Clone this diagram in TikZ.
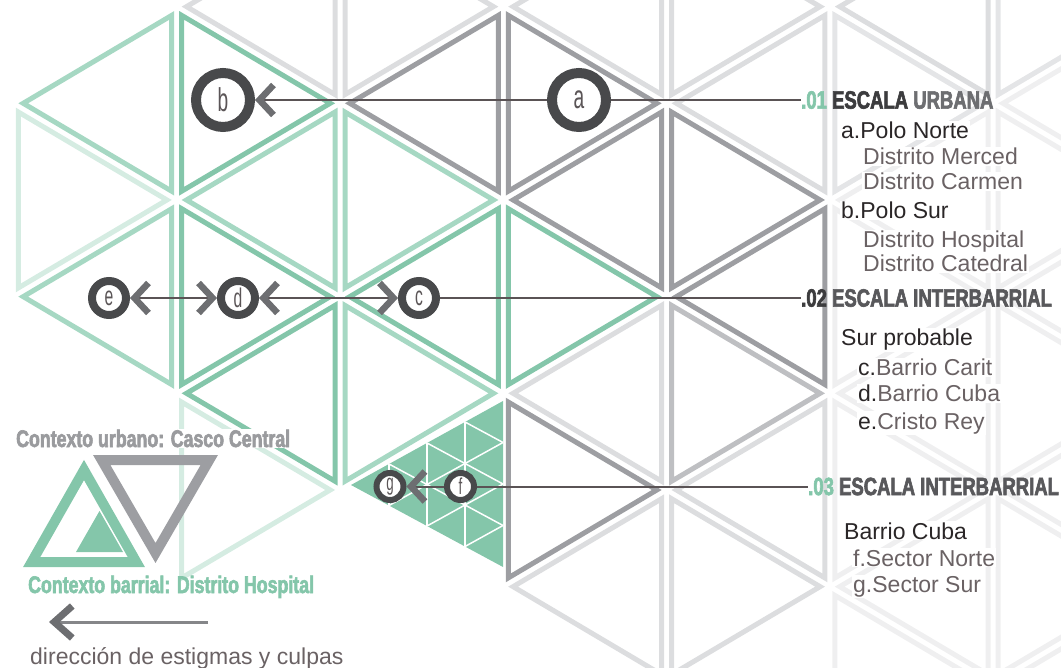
\documentclass[tikz,border=0pt]{standalone}
\usepackage{fontspec}
\setmainfont{Liberation Sans}
\newfontfamily\headfont{Liberation Sans}[FakeStretch=0.74,FakeBold=2.5]
\newfontfamily\circfont{Liberation Sans}[FakeStretch=0.58]
\usetikzlibrary{arrows.meta,calc}
\definecolor{gA}{HTML}{84C6AA}
\definecolor{gB}{HTML}{A6D8C3}
\definecolor{gC}{HTML}{D5ECE2}
\definecolor{dA}{HTML}{9D9EA2}
\definecolor{dB}{HTML}{BEBFC2}
\definecolor{dC}{HTML}{DCDDDF}
\definecolor{dC2}{HTML}{E4E5E7}
\definecolor{dD}{HTML}{EFEFF0}
\definecolor{ringc}{HTML}{48494B}
\definecolor{chevc}{HTML}{6D6E71}
\definecolor{connc}{HTML}{5A5355}
\definecolor{tdark}{HTML}{2A2627}
\definecolor{tgray}{HTML}{6A6264}
\definecolor{hdark}{HTML}{3C3C3E}
\definecolor{hmid}{HTML}{58585B}
\definecolor{hgray}{HTML}{6D6E71}
\definecolor{lgray}{HTML}{9A9B9E}
\definecolor{legl}{HTML}{858689}
\definecolor{circt}{HTML}{5B5557}

\def\XO{13.4}\def\DX{163.3}\def\YO{103.3}\def\DY{96.67}\def\RIN{55.11}\def\KK{0.9093}
% triangle of the lattice: [extra style]{strip i}{row j}{colour}
\newcommand\tri[4][]{%
  \pgfmathtruncatemacro\tTp{mod(#2+#3+100,2)}%
  \ifnum\tTp=0
    \pgfmathsetmacro\tAx{\XO+\DX*(#2)}\pgfmathsetmacro\tEx{\XO+\DX*(#2+1)}\pgfmathsetmacro\tIx{\tEx-\RIN}%
  \else
    \pgfmathsetmacro\tAx{\XO+\DX*(#2+1)}\pgfmathsetmacro\tEx{\XO+\DX*(#2)}\pgfmathsetmacro\tIx{\tEx+\RIN}%
  \fi
  \pgfmathsetmacro\tYm{\YO+\DY*(#3)}%
  \pgfmathsetmacro\tAp{\tIx+\KK*(\tAx-\tIx)}%
  \pgfmathsetmacro\tEp{\tIx+\KK*(\tEx-\tIx)}%
  \pgfmathsetmacro\tEu{\tYm-\KK*\DY}%
  \pgfmathsetmacro\tEd{\tYm+\KK*\DY}%
  \draw[tristyle,draw=#4,#1] (\tAp,\tYm) -- (\tEp,\tEu) -- (\tEp,\tEd) -- cycle;
}

\tikzset{
  tristyle/.style={line width=5pt,line join=miter},
  chevtip/.tip={Straight Barb[sharp,length=14pt,width=30pt,line width=6.5pt,color=chevc]},
  chevleg/.tip={Straight Barb[sharp,length=18pt,width=32pt,line width=7pt,color=chevc]},
  conn/.style={draw=connc,line width=2pt},
  ringA/.style={circle,draw=ringc,fill=white,line width=10pt,minimum size=54pt,inner sep=0pt,text=circt,font=\circfont\fontsize{33}{33}\selectfont},
  ringB/.style={circle,draw=ringc,fill=white,line width=8pt,minimum size=34pt,inner sep=0pt,text=circt,font=\circfont\fontsize{27}{27}\selectfont},
  ringC/.style={circle,draw=ringc,fill=white,line width=6pt,minimum size=27pt,inner sep=0pt,text=circt,font=\circfont\fontsize{23}{23}\selectfont},
  head/.style={anchor=west,inner sep=0pt,font=\headfont\bfseries\fontsize{25}{25}\selectfont},
  item/.style={anchor=base west,inner sep=1pt,fill=white,font=\fontsize{23}{23}\selectfont},
  legtext/.style={anchor=base west,inner sep=1pt,font=\headfont\bfseries\fontsize{24}{24}\selectfont},
}

\begin{document}
\begin{tikzpicture}[x=1pt,y=-1pt]
\useasboundingbox (0,0) rectangle (1061,668);
\clip (0,0) rectangle (1061,668);

% ---- faint right part
\foreach \j in {0,...,6} {\tri{6}{\j}{dD}}
\foreach \j in {1,...,6} {\tri{5}{\j}{dD}}
\tri{6}{-1}{dC2}
\tri{5}{0}{dC2}
\tri{5}{-1}{dC}
% ---- strip 4
\tri{4}{-1}{dC}\tri{4}{0}{dC}\tri{4}{1}{dA}\tri{4}{2}{dA}\tri{4}{3}{dB}\tri{4}{4}{dC}\tri{4}{5}{dC}
% ---- strip 3
\tri{3}{-1}{dC}\tri{3}{0}{dA}\tri{3}{1}{dA}\tri{3}{2}{gA}\tri{3}{3}{dC}\tri{3}{4}{dA}\tri{3}{5}{dC}
% ---- strip 2
\tri{2}{-1}{dC}\tri{2}{0}{dA}\tri{2}{1}{gB}\tri{2}{2}{gA}\tri{2}{3}{gB}
% ---- strip 1
\tri{1}{-1}{dC}\tri{1}{0}{gA}\tri{1}{1}{gB}\tri{1}{2}{gA}\tri{1}{3}{gA}\tri{1}{4}{gC}
% ---- strip 0
\tri{0}{0}{gB}\tri{0}{1}{gC}\tri{0}{2}{gB}

% ---- filled, subdivided triangle (Barrio Cuba)
\coordinate (FA) at (351,485);
\coordinate (FB) at (503,401);
\coordinate (FC) at (503,567);
\fill[gA] (FA) -- (FB) -- (FC) -- cycle;
\foreach \t in {0.25,0.5,0.75} {
  \draw[white,line width=1.5pt] ($(FA)!\t!(FB)$) -- ($(FA)!\t!(FC)$);
  \draw[white,line width=1.5pt] ($(FA)!\t!(FC)$) -- ($(FC)!1-\t!(FB)$);
  \draw[white,line width=1.5pt] ($(FA)!\t!(FB)$) -- ($(FB)!1-\t!(FC)$);
}

% ---- legend symbols
\draw[line width=10pt,draw=gA,line join=miter] (31.7,562) -- (136.3,562) -- (84,470) -- cycle;
\fill[gA] (76,552) -- (123,552) -- (99.5,511) -- cycle;
\draw[line width=10pt,draw=dA,line join=miter] (101.7,460) -- (209.3,460) -- (155.5,553) -- cycle;

% ---- texts
\node[legtext,text=lgray,fill=white] (ctxU) at (15,447) {Contexto urbano: Casco Central};
\node[legtext,text=gA] (ctxB) at (27,593) {Contexto barrial: Distrito Hospital};
\node[anchor=base west,inner sep=0pt,text=tgray,font=\fontsize{23}{23}\selectfont] (dir) at (30,664) {dirección de estigmas y culpas};

\node[head] (h1) at (801,100) {\textcolor{gA}{.01} \textcolor{hdark}{ESCALA} \textcolor{hgray}{URBANA}};
\node[head] (h2) at (801,298) {\textcolor{hdark}{.02} \textcolor{hmid}{ESCALA INTERBARRIAL}};
\node[head] (h3) at (808,486.5) {\textcolor{gA}{.03} \textcolor{hmid}{ESCALA INTERBARRIAL}};

\node[item,text=tdark] (i1) at (840,139) {a.Polo Norte};
\node[item,text=tgray] (i2) at (862,165) {Distrito Merced};
\node[item,text=tgray] (i3) at (862,190) {Distrito Carmen};
\node[item,text=tdark] (i4) at (840,219) {b.Polo Sur};
\node[item,text=tgray] (i5) at (862,248) {Distrito Hospital};
\node[item,text=tgray] (i6) at (862,272) {Distrito Catedral};
\node[item,text=tdark] (i7) at (840,346) {Sur probable};
\node[item,text=tgray] (i8) at (857,376) {\textcolor{tdark}{c.}Barrio Carit};
\node[item,text=tgray] (i9) at (857,402) {\textcolor{tdark}{d.}Barrio Cuba};
\node[item,text=tgray] (i10) at (857,429) {\textcolor{tdark}{e.}Cristo Rey};
\node[item,text=tdark] (i11) at (843,539) {Barrio Cuba};
\node[item,text=tgray] (i12) at (852,566) {f.Sector Norte};
\node[item,text=tgray] (i13) at (852,592) {g.Sector Sur};

% ---- circles
\node[ringA] (a) at (579,100) {a};
\node[ringA] (b) at (223,100) {b};
\node[ringB] (c) at (419,298) {c};
\node[ringB] (d) at (238,298) {d};
\node[ringB] (e) at (109,298) {e};
\node[ringC] (f) at (460.5,486.5) {f};
\node[ringC] (g) at (390,486.5) {g};

% ---- connectors
\draw[conn,-{chevtip}] (a) -- (b);
\draw[conn] (a) -- (h1.west);
\draw[conn,{chevtip}-{chevtip}] (e) -- (d);
\draw[conn,{chevtip}-{chevtip}] (d) -- (c);
\draw[conn] (c) -- (h2.west);
\draw[conn,-{chevtip}] (f) -- (g);
\draw[conn] (f) -- (h3.west);

% ---- legend arrow
\coordinate (lgR) at (208,622);
\coordinate (lgL) at (49,622);
\draw[draw=legl,line width=3pt,-{chevleg}] (lgR) -- (lgL);
\end{tikzpicture}
\end{document}
